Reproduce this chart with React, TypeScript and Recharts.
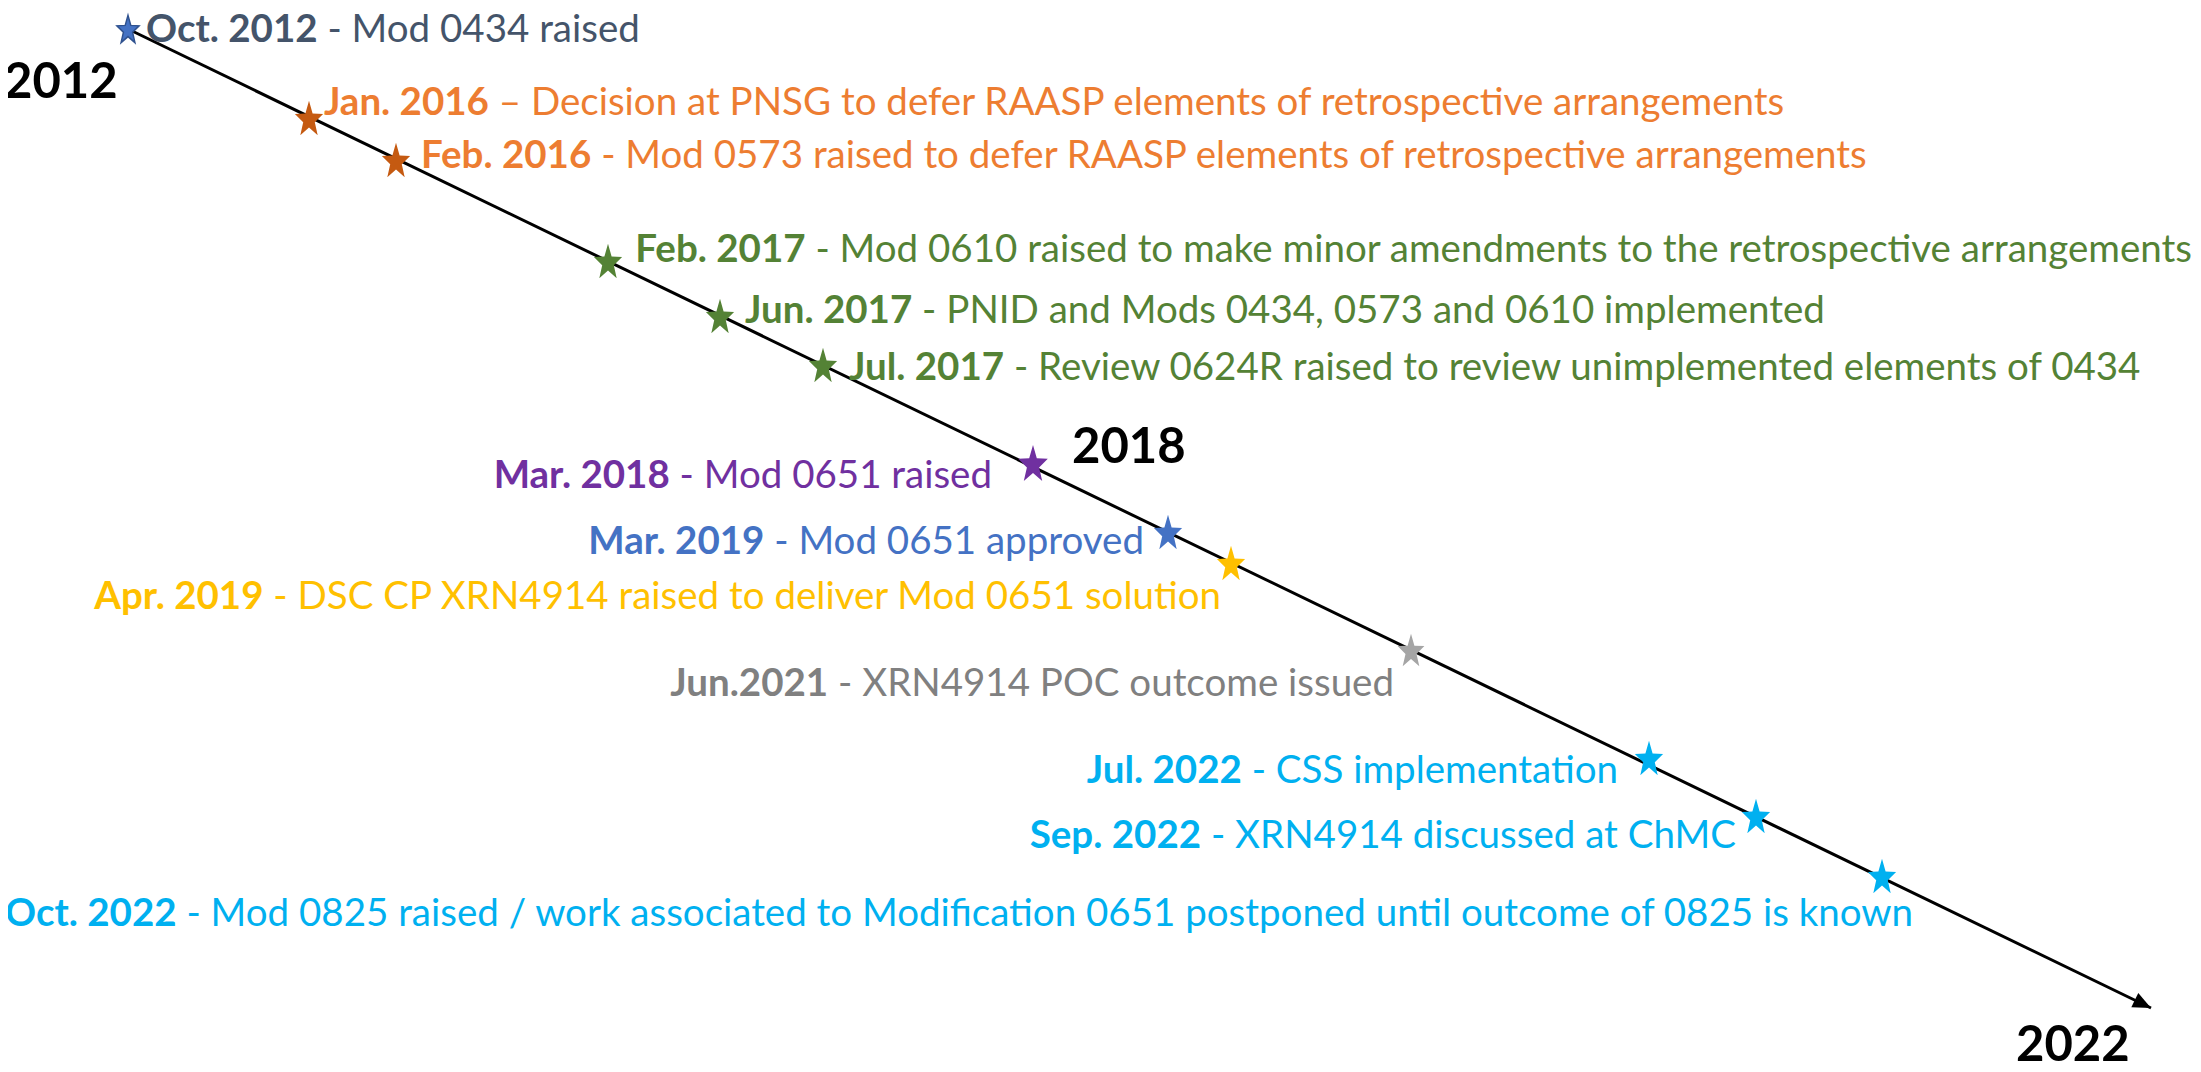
import React from "react";
import { ScatterChart, Scatter, XAxis, YAxis } from "recharts";

const CHART_W = 2201;
const CHART_H = 1072;
const FONT = "Lato, 'Open Sans', sans-serif";

// timeline arrow: first event -> arrow tip (picture units)
const axisX = [128, 2151];
const axisY = [29, 1008];

const eventDates = [
  "Oct. 2012",
  "Jan. 2016",
  "Feb. 2016",
  "Feb. 2017",
  "Jun. 2017",
  "Jul. 2017",
  "Mar. 2018",
  "Mar. 2019",
  "Apr. 2019",
  "Jun.2021",
  "Jul. 2022",
  "Sep. 2022",
  "Oct. 2022",
];

const eventTexts = [
  " - Mod 0434 raised",
  " \u2013 Decision at PNSG to defer RAASP elements of retrospective arrangements",
  " - Mod 0573 raised to defer RAASP elements of retrospective arrangements",
  " - Mod 0610 raised to make minor amendments to the retrospective arrangements",
  " - PNID and Mods 0434, 0573 and 0610 implemented",
  " - Review 0624R raised to review unimplemented elements of 0434",
  " - Mod 0651 raised",
  " - Mod 0651 approved",
  " - DSC CP XRN4914 raised to deliver Mod 0651 solution",
  " - XRN4914 POC outcome issued",
  " - CSS implementation",
  " - XRN4914 discussed at ChMC",
  " - Mod 0825 raised / work associated to Modification 0651 postponed until outcome of 0825 is known",
];

// star positions along the arrow
const starX = [128, 309, 396, 608, 720, 823, 1033, 1168, 1231, 1411, 1649, 1756, 1882];
const starY = [29, 118, 160, 261, 316, 365, 463, 532, 563, 650, 758, 816, 876];

// where each caption sits (start or end of the text, vertical middle)
const labelX = [146, 324, 421, 2192, 745, 849, 992, 1144, 1221, 1394, 1618, 1736, 5];
const labelY = [28, 101, 154, 248, 309, 366, 474, 540, 595, 682, 769, 834, 912];

const yearLabels = ["2012", "2018", "2022"];
const yearX = [4, 1072, 2016];
const yearY = [80, 445, 1043];

// styling, one entry per event
const EVENT_STYLE = [
  { text: "#44546A", star: "#4472C4", edge: "#2F528F", anchor: "start", size: 15 },
  { text: "#ED7D31", star: "#C55A11", anchor: "start", size: 19 },
  { text: "#ED7D31", star: "#C55A11", anchor: "start", size: 19 },
  { text: "#548235", star: "#548235", anchor: "end", size: 19 },
  { text: "#548235", star: "#548235", anchor: "start", size: 19 },
  { text: "#548235", star: "#548235", anchor: "start", size: 19 },
  { text: "#7030A0", star: "#7030A0", anchor: "end", size: 20 },
  { text: "#4472C4", star: "#4472C4", anchor: "end", size: 19 },
  { text: "#FFC000", star: "#FFC000", anchor: "end", size: 19 },
  { text: "#808080", star: "#A5A5A5", anchor: "end", size: 18 },
  { text: "#00B0F0", star: "#00B0F0", anchor: "end", size: 19 },
  { text: "#00B0F0", star: "#00B0F0", anchor: "end", size: 19 },
  { text: "#00B0F0", star: "#00B0F0", anchor: "start", size: 19 },
];

const LABEL_FS = 38.5;
const YEAR_FS = 49;

function starPath(cx: number, cy: number, R: number, r: number, sx: number) {
  let d = "";
  const yOff = R * 0.095;
  for (let k = 0; k < 10; k++) {
    const rad = k % 2 === 0 ? R : r;
    const a = -Math.PI / 2 + (k * Math.PI) / 5;
    const px = cx + rad * Math.cos(a) * sx;
    const py = cy + yOff + rad * Math.sin(a);
    d += (k === 0 ? "M" : "L") + px.toFixed(1) + "," + py.toFixed(1);
  }
  return d + "Z";
}

const renderStar = (p: any) => {
  const st = EVENT_STYLE[p.payload.i];
  return (
    <path
      d={starPath(p.cx, p.cy, st.size, st.size * 0.41, 0.78)}
      fill={st.star}
      stroke={st.edge || "none"}
      strokeWidth={st.edge ? 1.5 : 0}
    />
  );
};

const renderArrow = (p: any) => {
  if (!p.payload.end) return <g />;
  const ang = Math.atan2(axisY[1] - axisY[0], axisX[1] - axisX[0]);
  const len = 18;
  const half = 8;
  const bx = p.cx - len * Math.cos(ang);
  const by = p.cy - len * Math.sin(ang);
  const nx = -Math.sin(ang) * half;
  const ny = Math.cos(ang) * half;
  return (
    <path
      d={`M${p.cx},${p.cy}L${bx + nx},${by + ny}L${bx - nx},${by - ny}Z`}
      fill="#000"
    />
  );
};

const renderLabel = (p: any) => {
  const i = p.payload.i;
  const st = EVENT_STYLE[i];
  return (
    <text
      x={p.cx}
      y={p.cy}
      dy="0.36em"
      textAnchor={st.anchor}
      fontFamily={FONT}
      fontSize={LABEL_FS}
      fill={st.text}
      style={{ whiteSpace: "pre" }}
    >
      <tspan fontWeight={700}>{eventDates[i]}</tspan>
      <tspan>{eventTexts[i]}</tspan>
    </text>
  );
};

const renderYear = (p: any) => (
  <text
    x={p.cx}
    y={p.cy}
    dy="0.36em"
    fontFamily={FONT}
    fontSize={YEAR_FS}
    fontWeight={700}
    fill="#000"
  >
    {p.payload.t}
  </text>
);

export default function App() {
  const axisPts = axisX.map((x, i) => ({ x, y: axisY[i], end: i === axisX.length - 1 }));
  const events = eventDates.map((_, i) => ({ x: starX[i], y: starY[i], i }));
  const labels = eventDates.map((_, i) => ({ x: labelX[i], y: labelY[i], i }));
  const years = yearLabels.map((t, i) => ({ x: yearX[i], y: yearY[i], t }));

  return (
    <div
      style={{
        margin: -8,
        width: CHART_W,
        height: CHART_H,
        background: "#fff",
        overflow: "hidden",
      }}
    >
      <ScatterChart
        width={CHART_W}
        height={CHART_H}
        margin={{ top: 0, right: 0, bottom: 0, left: 0 }}
      >
        <XAxis type="number" dataKey="x" domain={[0, CHART_W]} allowDataOverflow hide />
        <YAxis type="number" dataKey="y" domain={[0, CHART_H]} allowDataOverflow reversed hide />
        <Scatter
          data={axisPts}
          line={{ stroke: "#000", strokeWidth: 3 }}
          shape={renderArrow}
          isAnimationActive={false}
        />
        <Scatter data={events} shape={renderStar} isAnimationActive={false} />
        <Scatter data={labels} shape={renderLabel} isAnimationActive={false} />
        <Scatter data={years} shape={renderYear} isAnimationActive={false} />
      </ScatterChart>
    </div>
  );
}
